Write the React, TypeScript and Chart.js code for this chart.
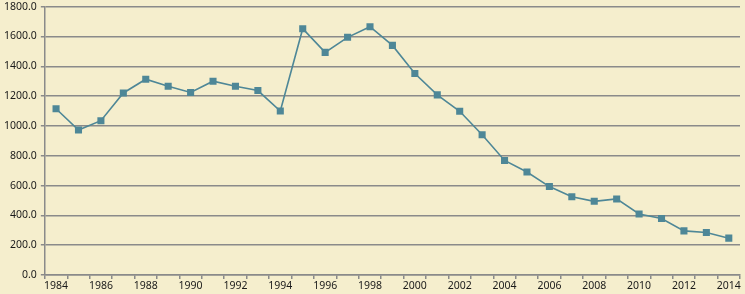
import React, { useEffect, useRef } from "react";
import { Chart, registerables } from "chart.js";

Chart.register(...registerables);

const years: string[] = [
  "1984", "1985", "1986", "1987", "1988", "1989", "1990", "1991", "1992", "1993",
  "1994", "1995", "1996", "1997", "1998", "1999", "2000", "2001", "2002", "2003",
  "2004", "2005", "2006", "2007", "2008", "2009", "2010", "2011", "2012", "2013", "2014",
];

const values: number[] = [
  1115, 972, 1035, 1221, 1313, 1266, 1224, 1300, 1266, 1237,
  1100, 1652, 1493, 1594, 1665, 1540, 1351, 1208, 1098, 941,
  768, 691, 593, 525, 494, 510, 409, 379, 296, 285, 247,
];

const yMin = 0;
const yMax = 1800;
const yStep = 200;

export default function App() {
  const ref = useRef<HTMLCanvasElement | null>(null);

  useEffect(() => {
    document.body.style.margin = "0";
    if (!ref.current) return;
    const font = { family: "'Noto Sans', sans-serif", size: 10.5 };
    const chart = new Chart(ref.current, {
      type: "line",
      data: {
        labels: years,
        datasets: [
          {
            data: values,
            borderColor: "#4e8797",
            backgroundColor: "#4e8797",
            borderWidth: 1.6,
            pointStyle: "rect",
            pointRadius: 5,
            pointBorderWidth: 0,
            tension: 0,
          },
        ],
      },
      options: {
        animation: false,
        responsive: true,
        maintainAspectRatio: false,
        layout: { padding: { top: 0, right: 5, left: 0, bottom: 0 } },
        plugins: { legend: { display: false }, tooltip: { enabled: false } },
        scales: {
          x: {
            type: "category",
            offset: true,
            grid: {
              offset: true,
              drawOnChartArea: false,
              drawTicks: true,
              tickLength: 4,
              color: "#8a8a8a",
              lineWidth: 1.5,
            },
            border: { display: true, color: "#8a8a8a", width: 1.5 },
            ticks: {
              autoSkip: false,
              maxRotation: 0,
              minRotation: 0,
              padding: 2,
              color: "#1a1a1a",
              font: { ...font, lineHeight: 1.05 },
              callback: (_v: any, i: number) => (i % 2 === 0 ? years[i] : ""),
            },
          },
          y: {
            min: yMin,
            max: yMax,
            grid: {
              color: "#8a8a8a",
              lineWidth: 1.5,
              tickLength: 4,
            },
            border: { display: true, color: "#8a8a8a", width: 1.5 },
            ticks: {
              stepSize: yStep,
              padding: 4,
              color: "#1a1a1a",
              font: { ...font, lineHeight: 0.5 },
              callback: (v: any) => Number(v).toFixed(1),
            },
          },
        },
      },
    });
    return () => chart.destroy();
  }, []);

  return (
    <div style={{ width: 745, height: 294, background: "#f5eecd", position: "relative" }}>
      <canvas ref={ref} />
    </div>
  );
}
